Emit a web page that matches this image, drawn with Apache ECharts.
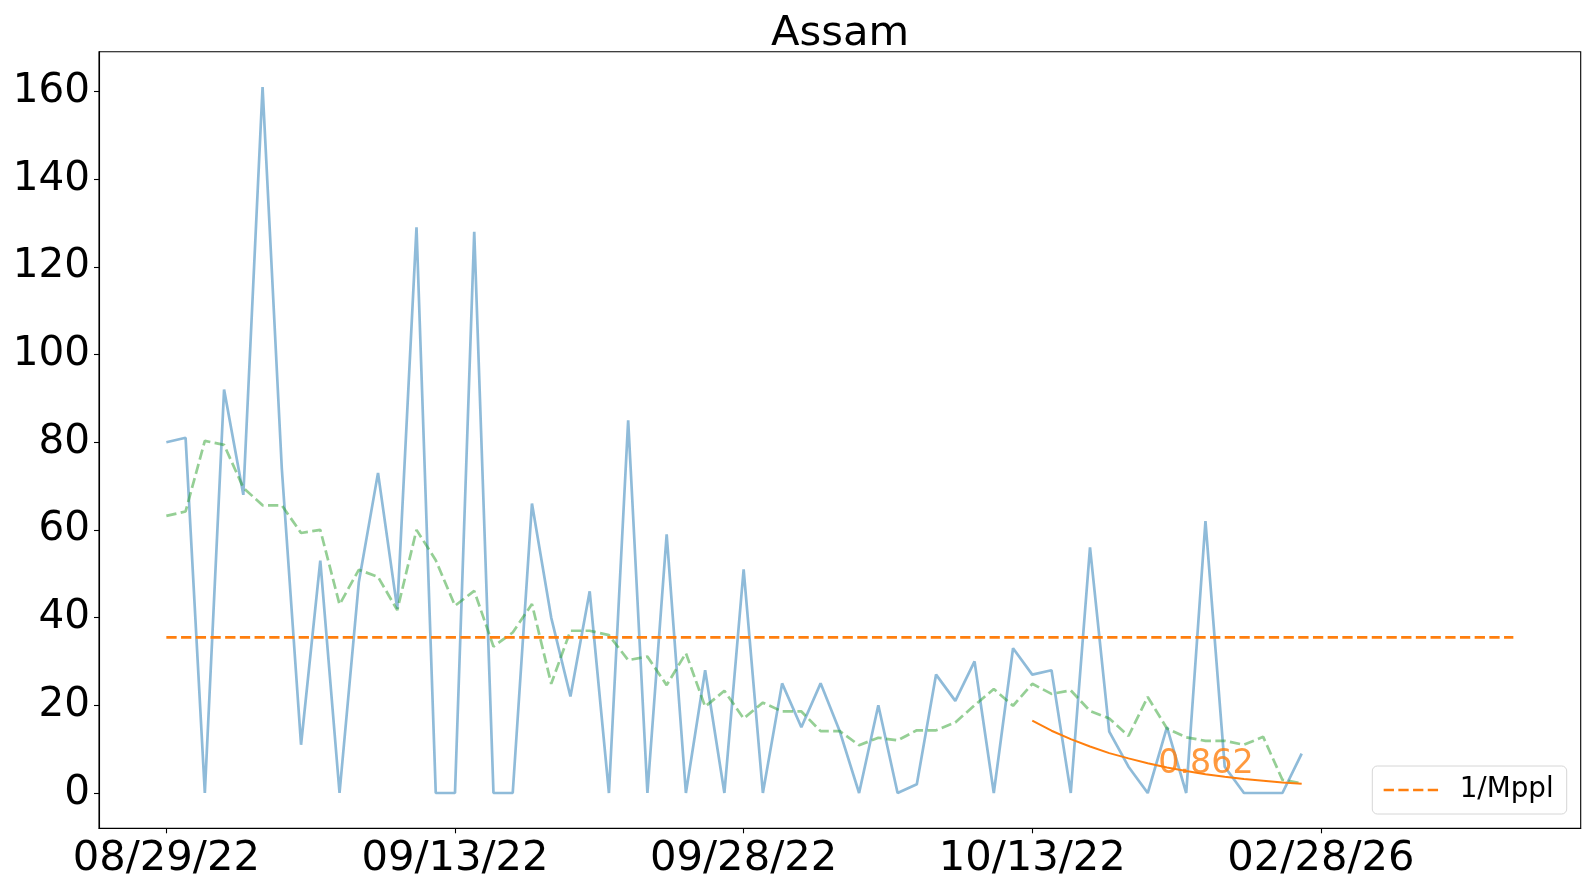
<!DOCTYPE html>
<html>
<head>
<meta charset="utf-8">
<script src="https://cdn.jsdelivr.net/npm/echarts@6/dist/echarts.min.js"></script>
<style>
html,body{margin:0;padding:0;background:#fff;}
#chart{width:1589px;height:890px;}
</style>
</head>
<body>
<div id="chart"></div>
<script>
// ---- data ----
const chartTitle = 'Assam';
const tickDays = [0, 15, 30, 45, 60];
const tickLabels = ['08/29/22', '09/13/22', '09/28/22', '10/13/22', '02/28/26'];
const yTicks = [0, 20, 40, 60, 80, 100, 120, 140, 160];

// daily values, one per day starting 08/29/22
const dailyValues = [80, 81, 0, 92, 68, 161, 74, 11, 53, 0,
  48, 73, 42, 129, 0, 0, 128, 0, 0, 66,
  40, 22, 46, 0, 85, 0, 59, 0, 28, 0,
  51, 0, 25, 15, 25, 14, 0, 20, 0, 2,
  27, 21, 30, 0, 33, 27, 28, 0, 56, 14,
  6, 0, 15, 0, 62, 6, 0, 0, 0, 9];

// smoothed (green dashed) values
const smoothValues = [63.2, 64.2, 80.3, 79.4, 69.6, 65.6, 65.6, 59.3, 60.0, 43.0,
  50.9, 49.3, 41.7, 60.0, 53.1, 42.7, 46.1, 33.4, 36.6, 43.1,
  24.9, 37.0, 37.0, 36.0, 30.3, 31.1, 24.6, 31.9, 19.7, 23.3,
  17.0, 20.6, 18.6, 18.6, 14.1, 14.1, 10.9, 12.6, 12.0, 14.3,
  14.3, 16.1, 20.0, 23.7, 19.9, 24.9, 22.6, 23.4, 18.7, 17.0,
  13.0, 21.9, 14.7, 12.7, 11.9, 11.9, 11.0, 12.8, 3.0, 2.2];

// fitted decay curve (orange solid)
const fitDays = [45, 46, 47, 48, 49, 50, 51, 52, 53, 54, 55, 56, 57, 58, 59];
const fitValues = [16.5, 14.2, 12.3, 10.6, 9.1, 7.9, 6.8, 5.8, 5.0, 4.3, 3.7, 3.2, 2.8, 2.4, 2.1];
const fitLabel = '0.862';
const fitLabelAt = [51.55, 6.5];

// 1/Mppl reference level
const mpplName = '1/Mppl';
const mpplLevel = 35.5;
const mpplDays = [0, 70];

// ---- chart ----
const FONT = 'DejaVu Sans';
const DASH = [10.3, 4.4];
const chart = echarts.init(document.getElementById('chart'), null, {renderer: 'canvas'});

const option = {
  animation: false,
  backgroundColor: '#ffffff',
  title: {
    text: chartTitle,
    left: 771,
    top: 13,
    padding: 0,
    textStyle: {fontFamily: FONT, fontSize: 41.7, fontWeight: 'normal', color: '#000'}
  },
  grid: {
    left: 99, right: 8.3, top: 51.7, bottom: 61.7,
    show: true, borderColor: '#000', borderWidth: 1.1, backgroundColor: 'transparent'
  },
  legend: {
    data: [mpplName],
    right: 22.3,
    bottom: 76,
    itemWidth: 56,
    itemHeight: 14,
    padding: [10, 13, 10, 10],
    borderColor: '#d6d6d6',
    borderWidth: 1,
    borderRadius: 5,
    backgroundColor: 'rgba(255,255,255,0.8)',
    itemStyle: {color: 'rgba(0,0,0,0)', borderWidth: 0, opacity: 0},
    lineStyle: {width: 2.7, type: DASH, color: '#ff7f0e'},
    textStyle: {fontFamily: FONT, fontSize: 27.8, color: '#000', padding: [0, 0, 0, 15]}
  },
  xAxis: {
    type: 'value',
    min: -3.5,
    max: 73.5,
    splitLine: {show: false},
    axisLine: {show: true, onZero: false, lineStyle: {color: '#000', width: 1.1}},
    axisTick: {show: true, customValues: tickDays, length: 5, lineStyle: {color: '#000', width: 1.1}},
    axisLabel: {
      customValues: tickDays,
      margin: 10,
      fontFamily: FONT, fontSize: 41.7, color: '#000',
      formatter: function (v) {
        const i = tickDays.indexOf(Math.round(v));
        return i >= 0 ? tickLabels[i] : '';
      }
    }
  },
  yAxis: {
    type: 'value',
    min: -8.05,
    max: 169.05,
    splitLine: {show: false},
    axisLine: {show: true, onZero: false, lineStyle: {color: '#000', width: 1.1}},
    axisTick: {show: true, customValues: yTicks, length: 5, lineStyle: {color: '#000', width: 1.1}},
    axisLabel: {
      customValues: yTicks,
      margin: 9,
      fontFamily: FONT, fontSize: 40.5, color: '#000',
      formatter: function (v) { return String(Math.round(v)); }
    }
  },
  series: [
    {
      name: 'daily',
      type: 'line',
      data: dailyValues.map((v, i) => [i, v]),
      symbol: 'none',
      silent: true,
      lineStyle: {color: '#1f77b4', opacity: 0.5, width: 2.7},
      itemStyle: {color: '#1f77b4'},
      z: 2
    },
    {
      name: 'smooth',
      type: 'line',
      data: smoothValues.map((v, i) => [i, v]),
      symbol: 'none',
      silent: true,
      lineStyle: {color: '#2ca02c', opacity: 0.5, width: 2.7, type: DASH},
      itemStyle: {color: '#2ca02c'},
      z: 3
    },
    {
      name: mpplName,
      type: 'line',
      data: mpplDays.map(d => [d, mpplLevel]),
      symbol: 'none',
      silent: true,
      lineStyle: {color: '#ff7f0e', width: 2.7, type: DASH},
      itemStyle: {color: '#ff7f0e'},
      z: 4
    },
    {
      name: 'fit',
      type: 'line',
      data: fitDays.map((d, i) => [d, fitValues[i]]),
      symbol: 'none',
      silent: true,
      lineStyle: {color: '#ff7f0e', width: 2},
      itemStyle: {color: '#ff7f0e'},
      z: 5
    },
    {
      name: 'fitLabel',
      type: 'scatter',
      data: [fitLabelAt],
      symbolSize: 0,
      silent: true,
      z: 6,
      label: {
        show: true,
        formatter: fitLabel,
        position: [0, 0],
        align: 'left',
        verticalAlign: 'middle',
        fontFamily: FONT,
        fontSize: 33.3,
        color: '#ff7f0e'
      }
    }
  ]
};
chart.setOption(option);
</script>
</body>
</html>
